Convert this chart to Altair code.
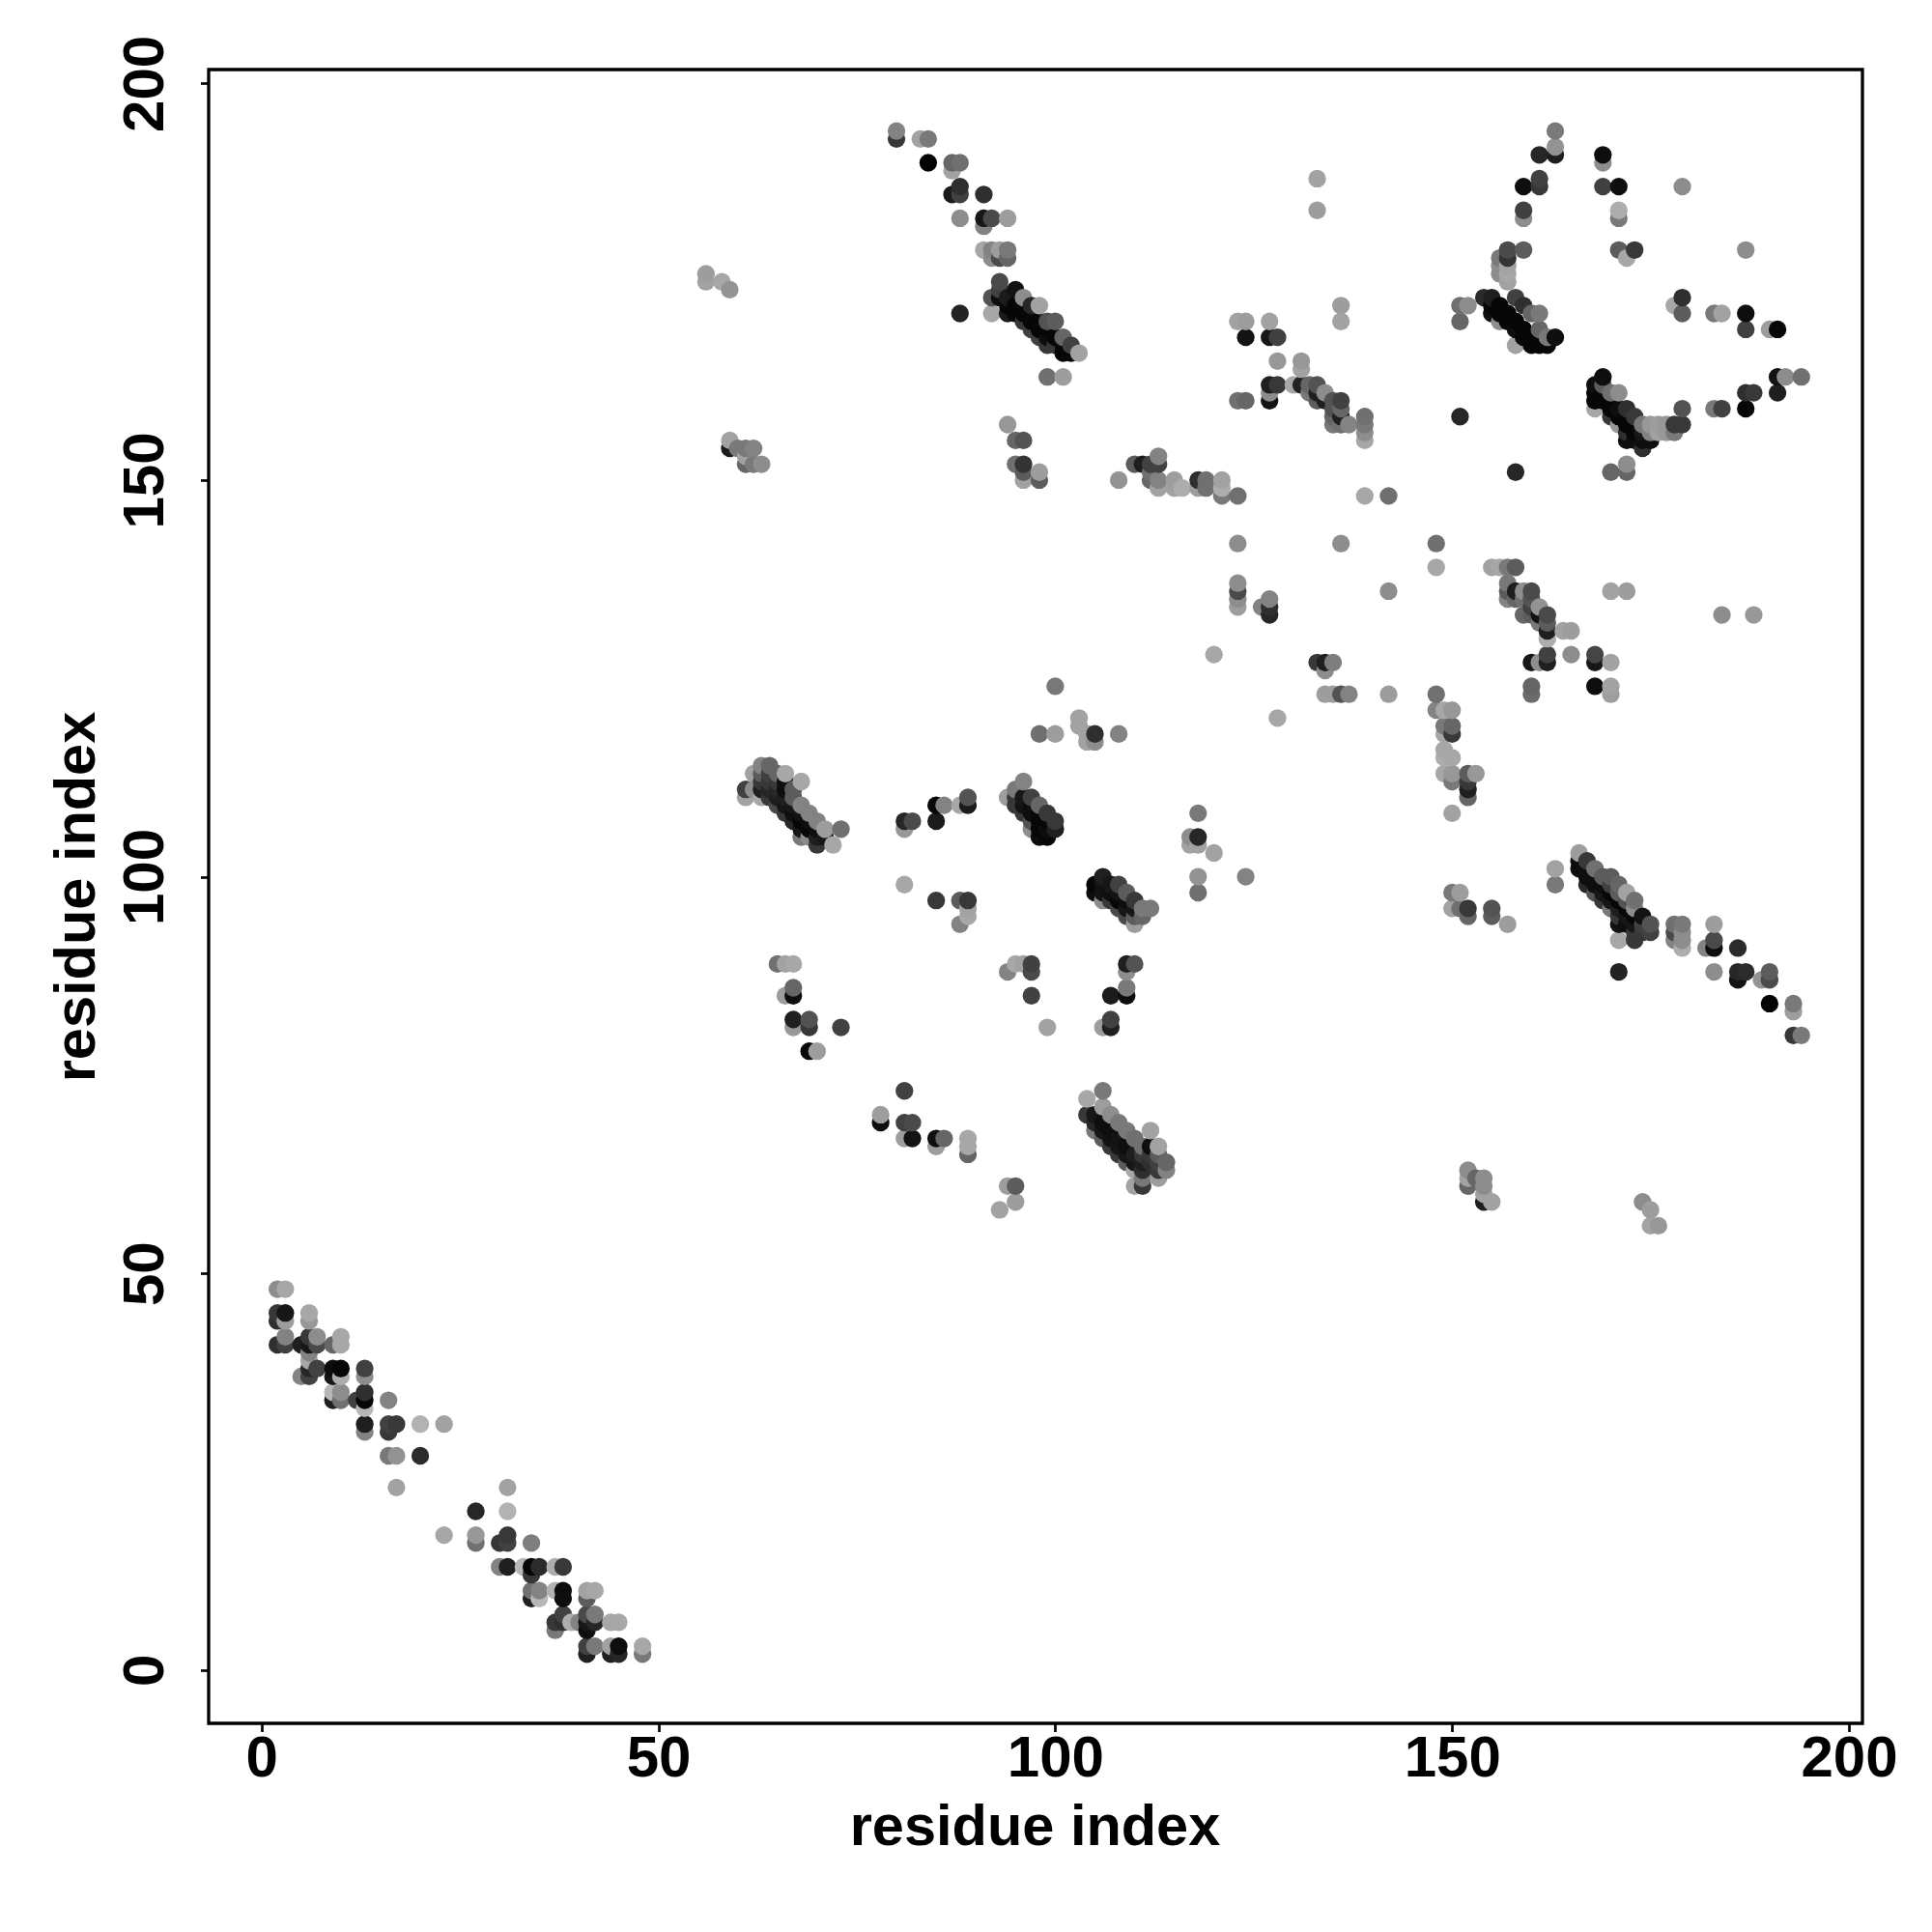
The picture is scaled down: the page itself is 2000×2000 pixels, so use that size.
import altair as alt
import pandas as pd

# each triple: residue i, residue j, grey level of the contact
strand_a = [
(2,48,150),(3,48,175),(2,45,60),(2,44,50),(3,44,165),(3,45,20),(6,45,175),(6,44,160),
(2,41,50),(3,41,70),(3,42,140),(5,41,30),(6,41,20),(6,42,60),(7,41,80),(7,42,150),(9,41,110),(10,41,175),(10,42,175),
(6,40,140),(6,39,175),(6,38,40),(6,37,70),(5,37,140),(7,38,70),(9,38,10),(9,37,20),(10,38,5),(10,37,180),(13,38,70),(13,37,150),
(9,35,190),(9,34,30),(10,35,150),(10,34,120),(12,34,70),(13,35,50),(13,34,5),(13,33,190),(16,34,140),
(13,31,30),(13,30,140),(16,31,70),(16,30,60),(17,31,60),(20,31,185),(23,31,170),
(16,27,130),(17,27,155),(20,27,45),(17,23,170),
]
strand_b = [
(31,23,170),(27,20,40),(31,20,185),(23,17,175),(27,17,160),(27,16,120),(30,16,60),(31,16,70),(31,17,60),(34,16,135),
(30,13,140),(31,13,30),(33,13,190),(34,13,5),(35,13,45),(37,13,180),(38,13,60),(34,12,60),
(34,10,120),(34,9,30),(35,10,140),(35,9,190),(37,10,185),(38,10,10),(38,9,10),(41,10,170),(42,10,175),(41,9,100),
(38,7,70),(38,6,50),(37,6,60),(37,5,130),(39,6,180),(40,6,140),(41,7,80),(41,6,20),(41,5,10),(42,7,130),(42,6,40),(44,6,175),(45,6,175),
(41,3,70),(41,2,30),(42,3,130),(44,3,170),(44,2,30),(45,2,40),(45,3,10),(48,3,175),(48,2,130),
]
mid_upper = [
(98,118,120),(100,118,165),(105,118,50),(108,118,140),(104,118,170),(104,117,170),(105,117,150),(103,119,170),(100,124,130),(103,120,170),
(61,111,70),(61,110,170),(63,110,175),(62,113,170),(62,111,150),(66,113,175),(68,112,175),(72,104,175),(73,106,120),
(63,114,140),(64,114,110),(65,113,110),(66,112,10),(67,111,100),(67,110,100),(68,109,140),(69,108,140),(70,107,140),(71,106,165),
(63,113,100),(64,113,70),(64,112,60),(65,112,60),(65,111,40),(66,111,10),(66,110,30),(67,109,20),(68,108,15),(69,107,10),(70,106,10),(71,105,20),
(63,112,60),(64,111,40),(65,110,30),(66,109,20),(67,108,10),(68,107,5),(69,106,5),(70,105,30),
(63,111,30),(64,110,60),(65,109,80),(66,108,60),(67,107,40),(68,106,20),(69,105,150),(70,104,60),(68,105,130),
(81,107,40),(82,107,80),(81,106,160),(85,107,25),(85,109,5),(86,109,140),(88,109,175),(89,109,25),(89,110,90),
(94,110,165),(95,111,130),(96,112,140),(97,110,70),(98,109,110),(99,108,60),(100,107,60),
(96,110,20),(97,109,10),(98,108,5),(99,107,5),(100,106,30),
(95,110,60),(96,109,15),(97,108,10),(98,107,5),(99,106,10),
(95,109,60),(96,108,60),(97,107,90),(98,106,5),(99,105,5),(98,105,10),(97,106,150),
(118,108,130),(117,105,150),(117,104,170),(118,105,40),(118,104,170),(120,103,170),(118,100,155),(124,100,140),(118,98,120),
]
mid_lower = [
(81,99,175),(85,97,60),(88,97,100),(89,97,60),(89,96,170),(89,95,175),(88,94,140),
(106,100,30),(107,99,20),(108,98,15),(109,97,10),(110,96,20),(111,95,110),
(106,99,15),(107,98,10),(108,97,5),(109,96,20),(110,95,100),
(105,99,5),(105,98,10),(106,98,15),(107,97,60),(108,96,80),(109,95,80),(110,94,165),(106,97,150),
(108,99,70),(109,98,100),(110,97,60),(111,96,130),(112,96,130),
(65,89,120),(66,89,170),(67,89,175),(67,86,110),(66,85,165),(67,85,10),
(67,82,30),(67,81,160),(69,82,90),(69,81,60),(73,81,70),(69,78,5),(70,78,165),
(94,88,140),(95,89,175),(96,89,170),(97,89,70),(97,88,80),(97,85,70),(99,81,170),
(109,89,30),(110,89,90),(109,88,150),(109,86,130),(109,85,10),(107,85,25),(106,81,165),(107,82,70),(107,81,30),
(81,73,70),(78,70,165),(78,69,10),(81,69,70),(82,69,80),(81,67,165),(82,67,15),(85,67,10),(86,67,110),(85,66,165),
(89,67,175),(89,66,175),(89,65,110),(95,61,100),(94,61,165),(95,59,165),(93,58,170),
(104,72,175),(106,73,130),(104,70,60),(106,71,165),(107,70,150),(108,69,130),(109,68,130),(110,67,120),(112,68,170),(113,66,170),(112,66,10),
(105,70,20),(106,69,10),(107,68,10),(108,67,15),(109,66,10),(110,65,30),(111,64,30),
(105,69,40),(106,68,20),(107,67,15),(108,66,20),(109,65,20),(110,64,20),(111,63,50),
(105,68,130),(106,67,100),(107,66,60),(108,65,60),(109,64,100),
(111,66,120),(111,65,60),(112,65,60),(112,64,50),(113,65,100),(113,64,70),
(114,64,110),(114,63,140),(113,63,60),(113,62,165),(110,61,170),(111,61,60),(111,62,130),(110,63,175),
]
centre = [
(120,128,175),(133,127,60),(134,127,30),(135,127,135),(134,126,150),
(134,123,165),(135,123,165),(136,123,90),(137,123,140),(142,123,165),(148,123,120),(148,121,140),(149,121,175),(150,121,160),
(128,120,175),(149,119,130),(150,119,110),(149,118,175),(150,118,60),
(149,116,175),(149,115,180),(150,115,175),(149,113,175),(150,113,160),(150,112,130),(152,113,100),(153,113,160),(152,112,60),(152,111,30),(152,110,110),(150,108,170),
(165,128,150),(164,131,170),(165,131,170),(168,124,10),(160,124,110),(160,123,115),(170,124,170),(170,123,165),
(120,103,170),(124,100,140),
(150,98,130),(151,98,165),(150,96,170),(151,96,120),(152,96,60),(152,95,110),(155,96,90),(155,95,100),(157,94,165),
(163,101,170),(163,99,130),
]
band_right = [
(166,103,165),(166,102,10),(166,101,10),(167,102,60),(167,101,10),(167,100,10),(168,100,10),(168,99,10),(169,99,10),(169,98,20),(170,98,5),(170,97,20),
(171,97,5),(171,96,30),(172,96,5),(172,95,20),(173,95,5),(173,94,20),(173,93,60),(174,94,70),
(168,101,120),(169,100,100),(170,100,100),(170,99,70),(171,99,110),(171,98,100),(172,97,90),(172,98,170),(173,97,120),(173,96,150),(174,95,15),(174,93,60),(175,93,70),(175,94,90),
(167,99,40),(168,98,90),(169,97,60),(170,96,130),(171,95,60),(171,94,15),(172,94,10),(171,92,175),(173,92,60),(171,88,35),
(178,94,120),(178,93,80),(178,92,140),(179,94,130),(179,93,150),(179,92,150),(179,91,180),
(183,94,165),(183,92,80),(183,91,10),(182,91,140),(186,91,45),(183,88,150),(186,88,40),(187,88,45),(186,87,15),(189,87,155),(190,88,100),(190,87,80),(190,84,3),(193,84,130),(193,83,165),(193,80,60),(194,80,130),
(152,63,150),(152,62,170),(152,61,110),(153,62,110),(154,62,150),(154,61,150),(154,59,30),(154,60,170),(155,59,170),
(174,59,150),(175,58,165),(175,56,170),(176,56,160),
]
top_left = [
(80,194,140),(80,193,60),(83,193,170),(84,193,130),(84,190,2),(87,190,110),(88,190,120),(87,189,170),
(88,187,50),(87,186,25),(88,186,70),(91,186,50),(88,183,150),(91,183,20),(92,183,80),(94,183,165),(91,182,140),
(91,179,175),(92,179,140),(93,179,165),(94,179,130),(92,178,150),(93,178,80),(94,178,110),
(93,175,80),(93,174,70),(92,173,90),(95,174,15),(96,173,150),(97,172,40),(98,172,170),(99,170,90),(100,170,100),(101,168,110),(102,167,70),(103,166,170),
(92,171,175),(88,171,35),(94,171,25),
(93,173,10),(94,173,25),(94,172,5),(95,172,5),(95,171,5),(96,171,5),(96,170,60),(97,170,5),(97,169,70),(98,170,5),(98,169,5),(98,168,70),(99,169,5),(99,168,10),(99,167,60),(100,168,5),(100,167,60),(101,167,5),(101,166,5),(102,166,5),
(99,163,120),(101,163,165),
(56,176,165),(56,175,170),(58,175,175),(59,174,155),
(59,155,170),(59,154,25),(60,154,130),(61,154,130),(62,154,140),(61,153,170),(61,152,110),(62,152,130),(63,152,150),
(94,157,160),(95,155,110),(96,155,90),(95,152,120),(96,152,55),(96,151,100),(96,150,170),(98,151,165),(98,150,100),
(108,150,155),(110,152,100),(111,152,30),(112,152,70),(113,153,140),(113,152,70),(112,151,120),(113,150,140),(113,149,170),(115,150,165),(115,149,170),(116,149,180),(118,149,165),(118,150,50),(119,150,120),(119,149,120),(121,150,170),(121,149,180),(121,148,130),(123,148,120),(112,150,110),
]
top_right = [
(133,188,170),(133,184,165),(163,194,130),(163,192,155),(161,191,40),(163,191,30),(169,191,10),(169,190,150),
(159,187,10),(161,188,70),(161,187,60),(169,187,70),(171,187,10),(179,187,150),(159,184,70),(159,183,150),(171,184,180),(171,183,130),
(157,179,80),(159,179,100),(171,179,100),(173,179,60),(172,178,175),(187,179,150),
(156,178,130),(157,178,55),(156,177,150),(157,177,170),(156,176,150),(157,176,175),(157,175,170),
(154,173,45),(155,173,30),(155,172,5),(155,171,10),(151,172,120),(152,172,150),(151,170,110),
(158,173,70),(159,172,50),(160,171,110),(161,171,130),
(156,172,5),(156,171,5),(157,171,5),(157,170,5),(158,170,5),(158,169,10),(159,169,5),(159,168,5),(160,168,5),(160,167,5),(161,167,5),(162,167,5),(163,168,10),(161,169,110),(162,168,130),(156,170,150),(158,167,170),
(178,172,175),(179,173,50),(179,171,100),(183,171,130),(184,171,170),(187,171,10),(187,169,70),(190,169,165),(191,169,5),
(123,170,170),(124,170,165),(127,170,170),(124,168,15),(127,168,20),(128,168,70),(136,172,165),(136,170,170),
(128,165,160),(131,165,160),(131,164,170),(127,162,30),(128,162,60),(130,162,175),(131,162,35),(132,162,110),(133,162,90),(134,161,150),(127,161,150),(127,160,15),(123,160,120),(124,160,110),
(132,161,130),(133,161,30),(133,160,100),(134,160,30),(135,160,90),(136,160,70),(135,159,90),(136,159,110),(135,158,110),(136,158,30),(137,157,140),(135,157,130),(136,157,120),(139,158,120),(139,157,130),(139,156,150),(139,155,175),
(169,163,10),(168,162,10),(168,161,5),(168,160,5),(169,162,100),(171,161,150),(170,161,120),(172,159,50),(173,158,60),(174,157,130),(175,157,160),(176,157,165),(177,157,160),(178,157,60),(179,157,60),(179,159,90),(178,156,130),(177,156,160),(175,156,140),(176,156,170),
(169,161,5),(169,160,5),(170,160,5),(170,159,5),(171,159,10),(171,158,5),(172,158,5),(172,157,5),(173,157,5),(173,156,5),(174,156,20),(174,155,10),(175,155,10),(172,155,10),(173,155,10),(174,154,50),(168,159,175),(170,158,60),(171,157,160),(172,156,50),
(183,159,130),(184,159,70),(187,159,5),(187,161,50),(188,161,60),(191,161,30),(191,163,15),(192,163,150),(194,163,120),
(151,158,40),(158,151,40),(170,151,110),(172,152,150),(172,151,110),
(139,148,175),(142,148,120),(123,142,150),(136,142,150),(148,142,120),(148,139,175),
(155,139,170),(156,139,175),(157,139,130),(158,139,100),
(157,137,130),(157,136,100),(158,136,30),(159,136,150),(160,136,80),(157,135,140),(158,135,110),(159,135,120),(160,135,90),
(160,134,70),(161,134,155),(159,133,110),(160,133,100),(161,133,15),(162,133,80),(161,132,130),(162,132,100),
(162,131,30),(164,131,170),(165,131,165),(162,130,180),(162,128,70),(165,128,150),(168,128,75),
(160,127,20),(161,127,150),(162,127,30),(168,127,20),(170,127,170),(168,124,10),
(123,137,150),(123,136,80),(123,135,150),(123,134,165),(126,134,140),(127,135,140),(127,134,50),(127,133,40),
(142,136,150),(170,136,170),(172,136,165),(184,133,150),(188,133,160),
]

groups = [strand_a, strand_b, mid_upper, mid_lower, centre, band_right, top_left, top_right]
rows = [t for g in groups for t in g]
df = pd.DataFrame(rows, columns=["i", "j", "grey"]).drop_duplicates(["i", "j"], keep="last")
df = df.sort_values(["i", "j"]).reset_index(drop=True)

FONT = "Liberation Sans"
tick_values = [0, 50, 100, 150, 200]

x_axis = alt.Axis(values=tick_values, grid=False, domain=False, tickColor="black", tickWidth=2.7, tickSize=8.5,
                  labelFont=FONT, labelFontWeight="bold", labelFontSize=60, labelColor="black",
                  labelBaseline="alphabetic", labelPadding=46, labelOverlap=False, labelFlush=False,
                  title="residue index", titleFont=FONT, titleFontWeight="bold", titleFontSize=59.5, titleColor="black",
                  titleBaseline="alphabetic", titleAlign="center", titleX=855, titleY=125)
y_axis = alt.Axis(values=tick_values, grid=False, domain=False, tickColor="black", tickWidth=2.7, tickSize=8.5,
                  labelFont=FONT, labelFontWeight="bold", labelFontSize=60, labelColor="black", labelAngle=270,
                  labelAlign="center", labelBaseline="alphabetic", labelPadding=39, labelOverlap=False, labelFlush=False,
                  title="residue index", titleFont=FONT, titleFontWeight="bold", titleFontSize=59.5, titleColor="black",
                  titleAngle=270, titleBaseline="alphabetic", titleAlign="center", titleX=-119, titleY=856)

chart = (
    alt.Chart(df)
    .mark_circle(size=335, opacity=1, strokeWidth=0)
    .encode(
        x=alt.X("i:Q", scale=alt.Scale(domain=[-6.66, 201.7], nice=False, zero=False), axis=x_axis),
        y=alt.Y("j:Q", scale=alt.Scale(domain=[-6.73, 201.75], nice=False, zero=False), axis=y_axis),
        color=alt.Color("grey:Q", scale=alt.Scale(domain=[0, 255], range=["#000000", "#ffffff"]), legend=None),
    )
    .properties(width=1712, height=1712, autosize=alt.AutoSizeParams(type="none"),
                padding={"left": 208, "top": 64, "right": 64, "bottom": 216})
    .configure_view(stroke="black", strokeWidth=3.3, fill="white")
)

chart.save("out.html", embed_options={"renderer": "svg", "actions": False})
